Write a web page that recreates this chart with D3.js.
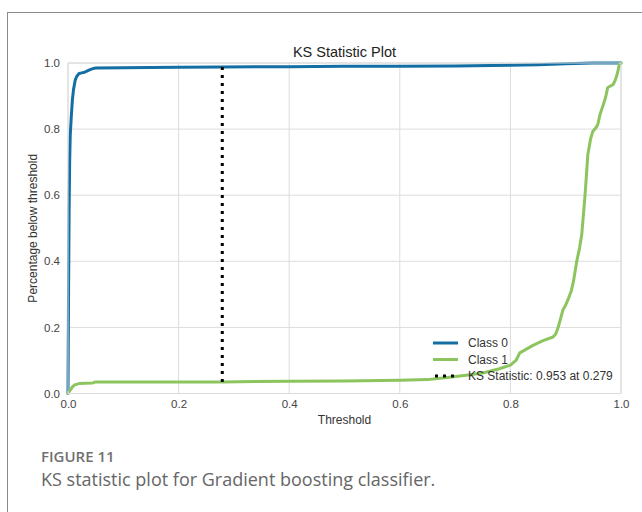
<!DOCTYPE html>
<html>
<head>
<meta charset="utf-8">
<script src="https://cdn.jsdelivr.net/npm/d3@7"></script>
<style>
  html, body { margin: 0; padding: 0; background: #fff; }
  svg { display: block; }
</style>
</head>
<body>
<svg id="chart" width="642" height="512"></svg>
<script>
// Cumulative share of each class below a given threshold
const class0Threshold = [0, 0.001, 0.002, 0.003, 0.004, 0.006, 0.008, 0.010, 0.013, 0.016, 0.020, 0.025, 0.030, 0.035, 0.040, 0.045, 0.050, 0.10, 0.20, 0.279, 0.40, 0.50, 0.60, 0.70, 0.80, 0.85, 0.90, 0.95, 1.0];
const class0Share     = [0, 0.30, 0.55, 0.70, 0.78, 0.84, 0.89, 0.92, 0.948, 0.960, 0.968, 0.970, 0.972, 0.976, 0.980, 0.983, 0.985, 0.986, 0.987, 0.988, 0.989, 0.990, 0.990, 0.991, 0.993, 0.995, 0.998, 1.0, 1.0];

const class1Threshold = [0, 0.004, 0.008, 0.012, 0.020, 0.030, 0.045, 0.050, 0.10, 0.20, 0.279, 0.40, 0.50, 0.60, 0.65, 0.69, 0.72, 0.75, 0.78, 0.80, 0.81, 0.817, 0.84, 0.859, 0.877, 0.882, 0.886, 0.89, 0.895, 0.900, 0.904, 0.910, 0.914, 0.920, 0.925, 0.929, 0.935, 0.940, 0.945, 0.949, 0.955, 0.958, 0.962, 0.968, 0.972, 0.976, 0.986, 0.990, 0.993, 0.997, 1.0];
const class1Share     = [0, 0.010, 0.020, 0.026, 0.030, 0.031, 0.032, 0.035, 0.035, 0.035, 0.035, 0.037, 0.038, 0.040, 0.042, 0.049, 0.055, 0.062, 0.075, 0.086, 0.100, 0.123, 0.145, 0.160, 0.171, 0.180, 0.198, 0.222, 0.253, 0.268, 0.283, 0.310, 0.339, 0.40, 0.440, 0.48, 0.60, 0.723, 0.770, 0.793, 0.805, 0.814, 0.844, 0.874, 0.895, 0.926, 0.935, 0.950, 0.965, 0.995, 1.0];

const ksStatistic = 0.953;
const ksThreshold = 0.279;
const ksClass0 = 0.988;
const ksClass1 = 0.035;

const xTicks = [0, 0.2, 0.4, 0.6, 0.8, 1.0];
const yTicks = [0, 0.2, 0.4, 0.6, 0.8, 1.0];
const seriesNames = ["Class 0", "Class 1"];
const seriesColors = ["#136ea4", "#8cc45e"];

const svg = d3.select("#chart");
const font = "'Liberation Sans', Arial, sans-serif";
const dotted = "3,5";

// Card frame
svg.append("rect")
  .attr("x", 7.5).attr("y", 12.5)
  .attr("width", 700).attr("height", 600)
  .attr("fill", "none").attr("stroke", "#8a8a8a").attr("stroke-width", 1);

const plot = { left: 68, right: 621, top: 63, bottom: 393.5 };
const x = d3.scaleLinear().domain([0, 1]).range([plot.left, plot.right]);
const y = d3.scaleLinear().domain([0, 1]).range([plot.bottom, plot.top]);

// Grid
const grid = svg.append("g");
grid.selectAll("line.vx").data(xTicks).join("line")
  .attr("x1", d => x(d)).attr("x2", d => x(d))
  .attr("y1", plot.top).attr("y2", plot.bottom)
  .attr("stroke", "#dcdcdc").attr("stroke-width", 1);
grid.selectAll("line.hy").data(yTicks).join("line")
  .attr("x1", plot.left).attr("x2", plot.right)
  .attr("y1", d => y(d)).attr("y2", d => y(d))
  .attr("stroke", "#dcdcdc").attr("stroke-width", 1);

// Axes (labels only, matplotlib-style with no tick marks)
const xAxis = d3.axisBottom(x).tickValues(xTicks).tickFormat(d3.format(".1f")).tickSize(0).tickPadding(6);
const yAxis = d3.axisLeft(y).tickValues(yTicks).tickFormat(d3.format(".1f")).tickSize(0).tickPadding(8);
const gx = svg.append("g").attr("transform", `translate(0,${plot.bottom})`).call(xAxis);
const gy = svg.append("g").attr("transform", `translate(${plot.left},0)`).call(yAxis);
[gx, gy].forEach(g => {
  g.select(".domain").remove();
  g.selectAll("text").attr("font-family", font).attr("font-size", 11.5).attr("fill", "#444");
});

// Curves
const line = d3.line().x(d => x(d[0])).y(d => y(d[1]));
const series = [
  d3.zip(class0Threshold, class0Share),
  d3.zip(class1Threshold, class1Share)
];
svg.append("g").selectAll("path").data(series).join("path")
  .attr("d", line)
  .attr("fill", "none")
  .attr("stroke", (d, i) => seriesColors[i])
  .attr("stroke-width", 3)
  .attr("stroke-linejoin", "round")
  .attr("stroke-linecap", "round");

// KS separation marker
svg.append("line")
  .attr("x1", x(ksThreshold)).attr("x2", x(ksThreshold))
  .attr("y1", y(ksClass1)).attr("y2", y(ksClass0))
  .attr("stroke", "#000").attr("stroke-width", 3)
  .attr("stroke-dasharray", dotted);

// Plot frame
svg.append("rect")
  .attr("x", plot.left).attr("y", plot.top)
  .attr("width", plot.right - plot.left).attr("height", plot.bottom - plot.top)
  .attr("fill", "none").attr("stroke", "#dcdcdc").attr("stroke-width", 1);

// Legend
const legendItems = [
  { label: seriesNames[0], color: seriesColors[0], dash: null },
  { label: seriesNames[1], color: seriesColors[1], dash: null },
  { label: `KS Statistic: ${ksStatistic.toFixed(3)} at ${ksThreshold.toFixed(3)}`, color: "#000", dash: dotted }
];
const legend = svg.append("g").attr("transform", "translate(433,343)");
legendItems.forEach((it, i) => {
  const row = legend.append("g").attr("transform", `translate(0,${i * 16.5})`);
  row.append("line")
    .attr("x1", it.dash ? 2 : 0).attr("x2", 25).attr("y1", 0).attr("y2", 0)
    .attr("stroke", it.color).attr("stroke-width", 3)
    .attr("stroke-dasharray", it.dash);
  row.append("text")
    .attr("x", 35).attr("y", 0).attr("dy", "0.35em")
    .attr("font-family", font).attr("font-size", 12).attr("fill", "#333")
    .text(it.label);
});

// Titles
svg.append("text")
  .attr("x", (plot.left + plot.right) / 2).attr("y", 57)
  .attr("text-anchor", "middle")
  .attr("font-family", font).attr("font-size", 14.5).attr("fill", "#222")
  .text("KS Statistic Plot");
svg.append("text")
  .attr("x", (plot.left + plot.right) / 2).attr("y", 424)
  .attr("text-anchor", "middle")
  .attr("font-family", font).attr("font-size", 12).attr("fill", "#333")
  .text("Threshold");
svg.append("text")
  .attr("transform", `translate(37,${(plot.top + plot.bottom) / 2}) rotate(-90)`)
  .attr("text-anchor", "middle")
  .attr("font-family", font).attr("font-size", 12).attr("fill", "#333")
  .text("Percentage below threshold");

// Caption
svg.append("text")
  .attr("x", 41).attr("y", 462)
  .attr("font-family", "'Open Sans', sans-serif").attr("font-size", 15)
  .attr("font-weight", 600).attr("fill", "#707070")
  .text("FIGURE 11");
svg.append("text")
  .attr("x", 41).attr("y", 486)
  .attr("font-family", "'Open Sans', sans-serif").attr("font-size", 18)
  .attr("fill", "#666")
  .text("KS statistic plot for Gradient boosting classifier.");
</script>
</body>
</html>
